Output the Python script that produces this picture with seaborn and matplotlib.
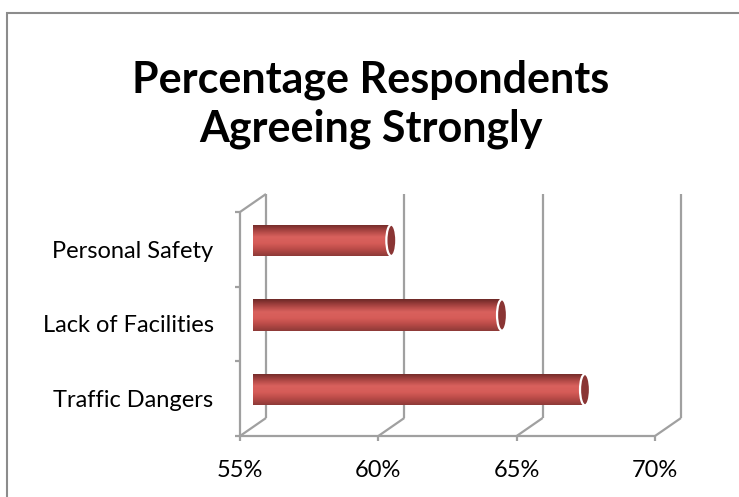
import numpy as np
import matplotlib
matplotlib.use("Agg")
import matplotlib.pyplot as plt
import matplotlib.transforms as mtransforms
from matplotlib.patches import Ellipse, Rectangle
from matplotlib.colors import LinearSegmentedColormap
import seaborn as sns

categories = ['Personal Safety', 'Lack of Facilities', 'Traffic Dangers']
values = [60.0, 64.0, 67.0]
x_ticks = [55, 60, 65, 70]
x_tick_labels = ['55%', '60%', '65%', '70%']

TITLE = 'Percentage Respondents\nAgreeing Strongly'
GRID = '#a0a0a0'
BAR_EDGE_CAP = '#8a3534'
FONT = ['Lato', 'DejaVu Sans']

W, H, DPI = 739, 497, 100
# depth of the 3d box, in pixels (right, up)
DEPTH = (26, 18)

sns.set_theme(style='white')
plt.rcParams['font.family'] = FONT
plt.rcParams['text.color'] = 'black'
plt.rcParams['xtick.color'] = 'black'
plt.rcParams['ytick.color'] = 'black'

fig = plt.figure(figsize=(W / DPI, H / DPI), dpi=DPI)
# front plane of the box
ax = fig.add_axes([240 / W, 1 - 436 / H, 415 / W, 224 / H])

sns.barplot(x=values, y=categories, ax=ax, width=0.42, color='#c0504d',
            orient='h', saturation=1)
ax.set_xlim(55, 70)
ax.set_ylim(2.5, -0.5)
sns.despine(ax=ax, left=True, bottom=True, top=True, right=True)


def shifted(frac):
    return ax.transData + mtransforms.ScaledTranslation(
        DEPTH[0] * frac / DPI, DEPTH[1] * frac / DPI, fig.dpi_scale_trans)


back = shifted(1.0)
mid = shifted(0.5)
line_kw = dict(color=GRID, lw=1.6, clip_on=False, solid_capstyle='butt')

# back wall gridlines
for xv in x_ticks:
    ax.plot([xv, xv], [2.5, -0.5], transform=back, **line_kw)
# floor diagonals and top-left diagonal, drawn in display space
disp = ax.transData
for xv in x_ticks:
    p0 = disp.transform((xv, 2.5))
    ax.plot([p0[0], p0[0] + DEPTH[0]], [p0[1], p0[1] + DEPTH[1]],
            transform=None, **line_kw)
p_top = disp.transform((55, -0.5))
ax.plot([p_top[0], p_top[0] + DEPTH[0]], [p_top[1], p_top[1] + DEPTH[1]],
        transform=None, **line_kw)
# front floor line and left wall front edge
ax.plot([55, 70], [2.5, 2.5], **line_kw)
ax.plot([55, 55], [2.5, -0.5], **line_kw)

# cylinder shading on the bars
grad = LinearSegmentedColormap.from_list(
    'cyl', ['#6e2927', '#a94442', '#d9615d', '#d65c58', '#b84a47', '#8e3a38'])
shade = np.linspace(0, 1, 64).reshape(-1, 1)
for p, val in zip(ax.patches, values):
    y0, h = p.get_y(), p.get_height()
    p.set_x(55)
    p.set_width(val - 55)
    p.set_transform(mid)
    p.set_clip_on(False)
    p.set_edgecolor('white')
    p.set_linewidth(1.0)
    im = ax.imshow(shade, cmap=grad, aspect='auto',
                   extent=(55, val, y0 + h, y0), transform=mid, zorder=2.5)
    im.set_clip_path(p)
    cap = Ellipse((val, y0 + h / 2), 0.36, h, transform=mid,
                  facecolor=BAR_EDGE_CAP, edgecolor='white', lw=1.6,
                  zorder=3, clip_on=False)
    ax.add_patch(cap)
ax.set_ylim(2.5, -0.5)
ax.set_xlim(55, 70)

# ticks
ax.set_xticks(x_ticks)
ax.set_xticklabels(x_tick_labels, fontsize=17)
ax.set_yticks(range(len(categories)))
ax.set_yticklabels(categories, fontsize=17)
ax.set_yticks([-0.5, 0.5, 1.5, 2.5], minor=True)
ax.tick_params(axis='y', which='major', length=0, pad=19)
ax.tick_params(axis='y', which='minor', left=True, length=3.6, width=1.6,
               color=GRID)
ax.tick_params(axis='x', which='major', bottom=True, length=3.6, width=1.6,
               color=GRID, pad=14)
ax.set_xlabel('')
ax.set_ylabel('')

fig.text(0.5 * (W + 2) / W, 1 - 104 / H, TITLE, ha='center', va='center',
         fontsize=31, fontweight='bold', linespacing=1.25, color='black')

# outer chart border
fig.add_artist(Rectangle((7 / W, -0.1), 1.2, 1 - 13 / H + 0.1,
                         transform=fig.transFigure, fill=False,
                         edgecolor='#8c8c8c', lw=1.5))

fig.savefig('out.png', dpi=DPI)
